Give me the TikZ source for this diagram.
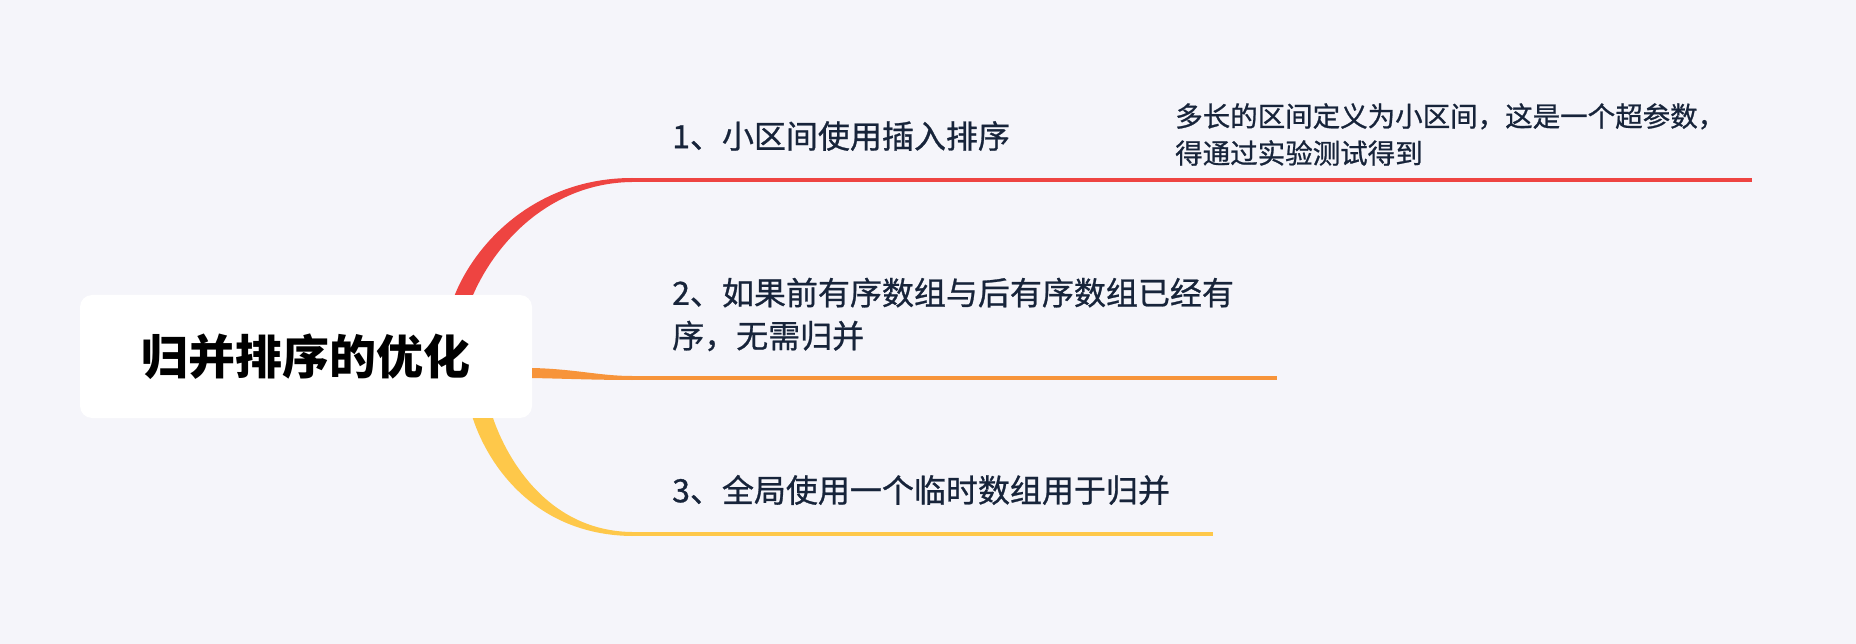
\documentclass[tikz,border=0pt]{standalone}
\usepackage{fontspec}
\setmainfont{Noto Sans CJK SC}
\newfontfamily\topicfont{Noto Sans CJK SC}[FakeBold=0.8]
\usepackage{tikz}
\usetikzlibrary{positioning}
\definecolor{mBg}{HTML}{F5F5FA}
\definecolor{mText}{HTML}{17243A}
\definecolor{mRed}{HTML}{EE4441}
\definecolor{mOrange}{HTML}{F7943A}
\definecolor{mYellow}{HTML}{FEC84A}

\begin{document}
\begin{tikzpicture}[x=1pt, y=-1pt,
    topic/.style={anchor=west, inner sep=0pt, align=left, text=mText, font=\topicfont\fontsize{32}{43}\selectfont},
    notetext/.style={anchor=west, inner sep=0pt, align=left, text=mText, font=\topicfont\fontsize{27.5}{37}\selectfont},
    branchline/.style={line width=4pt}]
      \useasboundingbox (0,0) rectangle (1856,644);
      \fill[mBg] (0,0) rectangle (1856,644);
      \node[fill=white, rounded corners=12pt, minimum width=452pt, minimum height=123pt, inner sep=0pt, font=\fontsize{47}{50}\selectfont\bfseries] (root) at (306,356.5) {归并排序的优化};
      % branch ends
      \coordinate (smallS) at (632,180);
      \coordinate (smallE) at (1752,180);
      \coordinate (sortedS) at (632,378);
      \coordinate (sortedE) at (1277,378);
      \coordinate (tempS) at (632,534);
      \coordinate (tempE) at (1213,534);
      % tapered curves from the root
      \fill[mRed] (root.north west) ++(375,0) .. controls (478,238) and (540,178) .. (632,178) -- (632,182) .. controls (552,183) and (497,240) .. (473,295) -- cycle;
      \fill[mOrange] (root.east) ++(0,11.5) .. controls (575,369) and (600,376) .. (632,376) -- (632,380) .. controls (600,380) and (575,379) .. (532,378) -- cycle;
      \fill[mYellow] (root.south west) ++(393,0) .. controls (488,465) and (535,535) .. (632,536) -- (632,532) .. controls (550,531) and (508,462) .. (493,418) -- cycle;
      \draw[branchline, mRed] (smallS) -- (smallE);
      \draw[branchline, mOrange] (sortedS) -- (sortedE);
      \draw[branchline, mYellow] (tempS) -- (tempE);
      % topics
      \node[topic] (small) at (672,136) {1、小区间使用插入排序};
      \node[topic] (sorted) at (672,314.5) {2、如果前有序数组与后有序数组已经有\\序，无需归并};
      \node[topic] (temp) at (672,490) {3、全局使用一个临时数组用于归并};
      \node[notetext] (note) at (1175,134.5) {多长的区间定义为小区间，这是一个超参数，\\得通过实验测试得到};
    \end{tikzpicture}
\end{document}
